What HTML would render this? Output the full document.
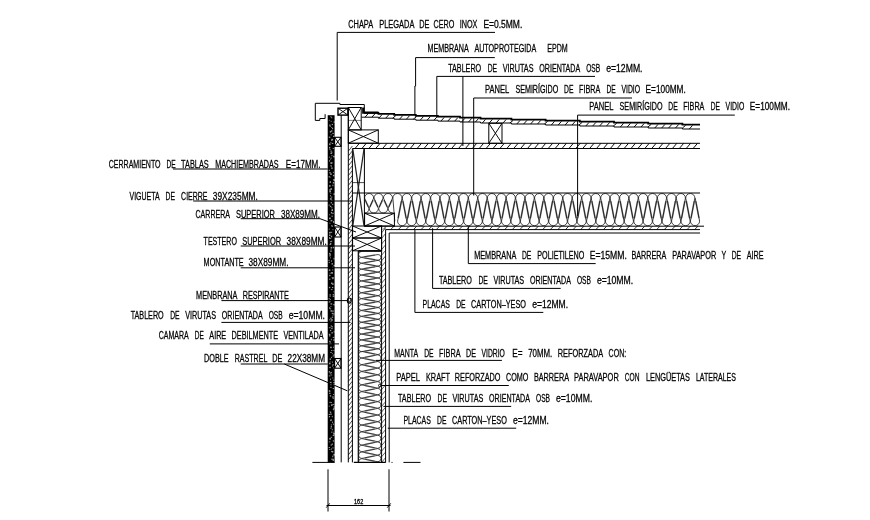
<!DOCTYPE html>
<html><head><meta charset="utf-8"><title>Detalle constructivo</title>
<style>
html,body{margin:0;padding:0;background:#fff;}
body{width:870px;height:520px;overflow:hidden;font-family:"Liberation Sans",sans-serif;}
svg{display:block;will-change:transform;}
svg text{font-family:"Liberation Sans",sans-serif;fill:#000;stroke:#000;stroke-width:0.26px;word-spacing:2.6px;}
</style></head><body>
<svg width="870" height="520" viewBox="0 0 870 520">
<rect x="0" y="0" width="870" height="520" fill="#fff"/>
<rect x="327.7" y="115.2" width="6.9" height="347.2" fill="#000"/>
<g fill="#fff" opacity="0.6"><rect x="330.2" y="116.4" width="1.4" height="0.9"/><rect x="331.3" y="117.0" width="0.9" height="1.3"/><rect x="328.8" y="119.8" width="0.9" height="0.9"/><rect x="330.7" y="120.8" width="0.9" height="1.0"/><rect x="331.7" y="123.9" width="1.3" height="1.2"/><rect x="333.5" y="121.5" width="1.6" height="1.1"/><rect x="329.3" y="124.4" width="1.1" height="1.5"/><rect x="329.5" y="125.6" width="1.4" height="1.1"/><rect x="331.3" y="127.0" width="0.9" height="1.0"/><rect x="332.0" y="127.9" width="1.1" height="1.3"/><rect x="330.9" y="130.3" width="1.5" height="1.4"/><rect x="329.8" y="131.0" width="1.3" height="1.6"/><rect x="332.2" y="132.9" width="1.7" height="0.9"/><rect x="330.7" y="134.2" width="0.9" height="1.2"/><rect x="328.8" y="136.6" width="1.5" height="1.3"/><rect x="333.0" y="135.7" width="1.4" height="1.3"/><rect x="331.5" y="138.8" width="1.6" height="1.7"/><rect x="331.0" y="139.3" width="0.9" height="1.4"/><rect x="331.8" y="142.9" width="1.5" height="1.1"/><rect x="330.5" y="142.0" width="0.8" height="1.2"/><rect x="329.4" y="143.3" width="0.9" height="1.5"/><rect x="329.2" y="143.6" width="1.2" height="1.6"/><rect x="329.0" y="146.9" width="1.3" height="1.6"/><rect x="332.7" y="147.9" width="1.1" height="1.2"/><rect x="330.4" y="150.7" width="1.7" height="0.9"/><rect x="329.5" y="149.0" width="1.0" height="1.2"/><rect x="331.5" y="151.8" width="0.8" height="1.2"/><rect x="330.4" y="152.6" width="1.7" height="1.4"/><rect x="331.2" y="155.4" width="1.4" height="0.8"/><rect x="333.1" y="155.8" width="1.6" height="1.5"/><rect x="330.6" y="157.5" width="0.9" height="1.4"/><rect x="328.9" y="156.7" width="1.0" height="0.9"/><rect x="330.3" y="159.3" width="0.8" height="0.9"/><rect x="329.1" y="160.1" width="0.8" height="1.6"/><rect x="331.7" y="162.3" width="1.0" height="1.1"/><rect x="330.4" y="162.2" width="1.6" height="1.7"/><rect x="330.9" y="165.9" width="0.9" height="0.9"/><rect x="330.3" y="165.3" width="1.5" height="0.9"/><rect x="328.7" y="169.8" width="1.3" height="0.9"/><rect x="331.3" y="167.4" width="1.3" height="1.7"/><rect x="332.9" y="171.8" width="1.0" height="1.1"/><rect x="329.4" y="172.0" width="1.3" height="1.5"/><rect x="330.2" y="173.3" width="1.5" height="1.7"/><rect x="332.9" y="174.8" width="1.5" height="1.5"/><rect x="329.7" y="176.7" width="1.1" height="0.8"/><rect x="328.7" y="176.1" width="1.0" height="1.4"/><rect x="333.4" y="179.3" width="1.6" height="1.7"/><rect x="333.4" y="179.0" width="1.0" height="1.0"/><rect x="329.6" y="181.3" width="1.4" height="1.6"/><rect x="332.8" y="182.0" width="1.4" height="1.5"/><rect x="329.0" y="185.2" width="1.6" height="1.5"/><rect x="332.4" y="184.7" width="1.0" height="1.5"/><rect x="330.3" y="188.3" width="1.7" height="1.2"/><rect x="330.6" y="188.7" width="1.5" height="1.0"/><rect x="329.2" y="189.3" width="1.6" height="1.5"/><rect x="329.3" y="191.0" width="1.7" height="1.4"/><rect x="330.4" y="193.0" width="0.9" height="0.8"/><rect x="333.5" y="193.3" width="1.3" height="1.6"/><rect x="330.8" y="196.6" width="1.5" height="1.0"/><rect x="329.9" y="195.1" width="1.0" height="1.3"/><rect x="329.9" y="198.1" width="0.9" height="1.6"/><rect x="330.4" y="198.2" width="1.3" height="1.6"/><rect x="330.7" y="202.1" width="1.3" height="1.3"/><rect x="331.2" y="199.7" width="1.2" height="1.0"/><rect x="328.6" y="204.5" width="1.0" height="1.2"/><rect x="332.2" y="203.8" width="1.1" height="1.3"/><rect x="331.4" y="207.1" width="0.9" height="1.3"/><rect x="329.8" y="205.8" width="1.5" height="1.3"/><rect x="331.4" y="209.8" width="1.6" height="1.2"/><rect x="331.7" y="209.1" width="1.3" height="1.4"/><rect x="330.9" y="211.9" width="1.2" height="1.6"/><rect x="332.1" y="212.8" width="1.6" height="1.0"/><rect x="331.4" y="215.7" width="1.6" height="0.9"/><rect x="329.2" y="214.3" width="0.9" height="1.0"/><rect x="329.0" y="217.6" width="1.5" height="1.6"/><rect x="329.4" y="217.8" width="1.4" height="0.9"/><rect x="333.0" y="221.1" width="1.0" height="1.7"/><rect x="330.6" y="219.9" width="1.7" height="1.5"/><rect x="329.4" y="222.4" width="1.3" height="1.1"/><rect x="329.6" y="222.1" width="1.4" height="0.8"/><rect x="331.4" y="225.1" width="0.8" height="1.1"/><rect x="331.7" y="225.3" width="0.9" height="1.7"/><rect x="332.5" y="229.2" width="0.9" height="1.0"/><rect x="328.8" y="228.7" width="1.0" height="0.9"/><rect x="330.7" y="231.8" width="1.5" height="1.0"/><rect x="329.3" y="231.8" width="1.3" height="1.4"/><rect x="329.0" y="232.2" width="1.4" height="1.2"/><rect x="329.0" y="234.5" width="1.4" height="1.5"/><rect x="329.0" y="237.0" width="0.9" height="1.6"/><rect x="330.9" y="235.7" width="1.3" height="1.6"/><rect x="329.9" y="237.8" width="1.3" height="1.0"/><rect x="329.1" y="237.9" width="0.8" height="1.0"/><rect x="330.2" y="241.0" width="1.5" height="1.1"/><rect x="331.1" y="240.7" width="1.1" height="0.8"/><rect x="329.9" y="242.9" width="1.5" height="1.3"/><rect x="329.5" y="244.1" width="1.6" height="0.9"/><rect x="332.7" y="246.7" width="1.2" height="1.6"/><rect x="330.6" y="246.9" width="1.4" height="1.7"/><rect x="330.3" y="250.5" width="1.4" height="1.4"/><rect x="330.6" y="249.2" width="0.8" height="0.9"/><rect x="329.0" y="252.9" width="1.0" height="0.9"/><rect x="329.0" y="253.2" width="1.6" height="1.4"/><rect x="330.0" y="254.3" width="1.1" height="1.2"/><rect x="329.4" y="254.9" width="1.0" height="1.7"/><rect x="333.5" y="257.8" width="1.0" height="1.7"/><rect x="330.1" y="257.3" width="0.8" height="1.1"/><rect x="331.0" y="260.4" width="1.0" height="1.3"/><rect x="328.6" y="259.8" width="0.9" height="1.2"/><rect x="328.8" y="261.9" width="1.1" height="1.0"/><rect x="331.5" y="263.2" width="1.5" height="1.4"/><rect x="332.2" y="266.8" width="1.2" height="1.1"/><rect x="333.5" y="264.9" width="1.5" height="1.4"/><rect x="328.8" y="269.4" width="1.6" height="1.4"/><rect x="332.3" y="269.3" width="0.9" height="1.3"/><rect x="331.1" y="272.1" width="1.5" height="1.5"/><rect x="331.5" y="272.2" width="1.4" height="1.4"/><rect x="329.7" y="272.7" width="0.9" height="1.1"/><rect x="329.1" y="274.8" width="1.3" height="1.4"/><rect x="331.7" y="277.1" width="1.2" height="0.8"/><rect x="332.6" y="277.2" width="1.3" height="1.3"/><rect x="331.9" y="278.2" width="1.5" height="1.0"/><rect x="329.0" y="278.7" width="1.5" height="1.0"/><rect x="332.3" y="283.2" width="1.2" height="1.1"/><rect x="331.0" y="282.5" width="1.5" height="1.4"/><rect x="331.8" y="283.6" width="0.9" height="1.0"/><rect x="332.3" y="284.2" width="1.3" height="0.8"/><rect x="328.9" y="286.8" width="1.4" height="1.4"/><rect x="332.0" y="286.9" width="1.3" height="1.2"/><rect x="330.9" y="289.1" width="1.6" height="1.0"/><rect x="333.5" y="291.2" width="0.8" height="1.2"/><rect x="332.7" y="294.0" width="1.2" height="1.0"/><rect x="329.6" y="294.0" width="1.0" height="1.3"/><rect x="329.3" y="295.6" width="1.7" height="0.9"/><rect x="332.7" y="295.5" width="1.6" height="1.4"/><rect x="329.8" y="299.2" width="1.2" height="0.8"/><rect x="328.6" y="298.2" width="1.2" height="1.1"/><rect x="329.3" y="300.5" width="1.1" height="1.6"/><rect x="328.6" y="301.6" width="1.6" height="0.9"/><rect x="333.2" y="304.2" width="1.6" height="1.1"/><rect x="330.5" y="303.3" width="1.7" height="1.3"/><rect x="330.4" y="306.1" width="1.0" height="0.8"/><rect x="329.1" y="307.2" width="1.1" height="1.6"/><rect x="329.8" y="308.4" width="1.3" height="1.0"/><rect x="330.5" y="310.2" width="1.6" height="1.5"/><rect x="331.8" y="312.8" width="1.6" height="1.3"/><rect x="332.2" y="310.5" width="1.5" height="1.2"/><rect x="332.4" y="314.8" width="1.1" height="0.8"/><rect x="333.2" y="313.4" width="1.2" height="1.1"/><rect x="330.1" y="317.7" width="1.7" height="1.0"/><rect x="331.9" y="316.6" width="1.3" height="1.2"/><rect x="329.4" y="318.9" width="1.0" height="1.6"/><rect x="331.1" y="319.1" width="1.6" height="1.7"/><rect x="330.8" y="321.6" width="1.0" height="0.9"/><rect x="330.3" y="321.4" width="1.0" height="1.0"/><rect x="331.4" y="326.2" width="1.5" height="1.2"/><rect x="330.7" y="325.3" width="1.1" height="1.1"/><rect x="328.9" y="327.3" width="1.7" height="0.9"/><rect x="331.1" y="328.2" width="1.6" height="1.0"/><rect x="330.0" y="329.9" width="1.2" height="1.2"/><rect x="333.4" y="331.5" width="1.6" height="0.8"/><rect x="328.8" y="333.8" width="1.6" height="1.2"/><rect x="331.5" y="332.0" width="1.2" height="1.6"/><rect x="332.7" y="336.9" width="1.7" height="1.0"/><rect x="329.1" y="335.1" width="1.3" height="1.4"/><rect x="333.3" y="339.3" width="1.4" height="1.5"/><rect x="330.9" y="338.8" width="0.8" height="1.5"/><rect x="329.8" y="342.5" width="1.4" height="1.1"/><rect x="329.2" y="340.8" width="1.4" height="1.4"/><rect x="329.2" y="343.0" width="1.3" height="1.3"/><rect x="330.5" y="343.4" width="1.3" height="0.8"/><rect x="330.1" y="346.7" width="1.7" height="1.4"/><rect x="333.0" y="346.7" width="1.0" height="1.0"/><rect x="333.4" y="350.0" width="1.1" height="0.8"/><rect x="331.1" y="350.0" width="1.2" height="1.0"/><rect x="331.9" y="353.3" width="1.0" height="0.8"/><rect x="330.3" y="352.0" width="1.4" height="1.0"/><rect x="332.6" y="355.5" width="1.3" height="1.0"/><rect x="333.4" y="354.4" width="1.5" height="1.0"/><rect x="329.7" y="358.3" width="1.1" height="1.7"/><rect x="331.1" y="356.8" width="1.0" height="1.2"/><rect x="331.9" y="361.5" width="0.9" height="1.2"/><rect x="329.7" y="361.5" width="0.9" height="0.8"/><rect x="328.9" y="362.7" width="1.6" height="1.6"/><rect x="332.3" y="364.3" width="1.6" height="1.1"/><rect x="329.5" y="366.8" width="1.5" height="0.8"/><rect x="331.9" y="365.4" width="1.1" height="1.1"/><rect x="329.4" y="367.1" width="1.1" height="1.1"/><rect x="333.4" y="367.4" width="1.7" height="1.0"/><rect x="330.4" y="371.9" width="1.5" height="1.2"/><rect x="328.8" y="371.0" width="1.1" height="1.6"/><rect x="329.6" y="373.4" width="1.6" height="0.8"/><rect x="330.7" y="374.6" width="1.5" height="0.8"/><rect x="328.8" y="375.4" width="1.6" height="1.0"/><rect x="332.3" y="377.5" width="1.1" height="1.0"/><rect x="333.4" y="379.5" width="1.0" height="1.4"/><rect x="330.2" y="378.6" width="0.8" height="1.5"/><rect x="333.2" y="382.2" width="1.6" height="0.8"/><rect x="329.8" y="381.8" width="1.7" height="1.7"/><rect x="330.5" y="384.0" width="1.2" height="1.2"/><rect x="333.2" y="383.8" width="1.5" height="1.5"/><rect x="332.7" y="388.0" width="1.3" height="1.1"/><rect x="330.2" y="386.9" width="1.5" height="0.9"/><rect x="329.6" y="390.7" width="1.0" height="0.9"/><rect x="328.8" y="390.1" width="1.1" height="1.7"/><rect x="333.0" y="394.0" width="1.0" height="0.9"/><rect x="329.1" y="392.7" width="1.4" height="1.2"/><rect x="329.8" y="395.2" width="1.4" height="1.4"/><rect x="332.3" y="396.3" width="1.4" height="0.9"/><rect x="332.8" y="397.6" width="1.3" height="1.1"/><rect x="332.3" y="397.3" width="1.0" height="1.0"/><rect x="329.4" y="401.8" width="1.3" height="1.1"/><rect x="330.6" y="402.1" width="1.3" height="1.0"/><rect x="332.6" y="403.9" width="1.7" height="0.9"/><rect x="331.0" y="404.3" width="1.6" height="1.6"/><rect x="328.8" y="405.7" width="0.9" height="1.0"/><rect x="333.5" y="406.4" width="1.6" height="1.1"/><rect x="332.9" y="408.8" width="1.0" height="1.5"/><rect x="333.3" y="407.9" width="1.3" height="1.4"/><rect x="329.7" y="411.3" width="0.9" height="1.0"/><rect x="329.9" y="411.9" width="1.4" height="1.0"/><rect x="328.7" y="413.9" width="1.4" height="1.0"/><rect x="330.2" y="413.5" width="1.5" height="1.3"/><rect x="328.9" y="416.0" width="1.2" height="1.3"/><rect x="331.8" y="415.9" width="0.9" height="1.4"/><rect x="330.6" y="419.1" width="1.1" height="1.7"/><rect x="330.2" y="419.9" width="1.1" height="1.2"/><rect x="332.9" y="423.7" width="1.1" height="1.0"/><rect x="332.2" y="421.6" width="0.8" height="1.6"/><rect x="330.7" y="425.9" width="1.2" height="1.6"/><rect x="330.9" y="424.2" width="0.8" height="1.3"/><rect x="331.8" y="428.9" width="0.9" height="1.4"/><rect x="330.5" y="427.8" width="0.9" height="1.1"/><rect x="331.2" y="431.6" width="0.9" height="1.2"/><rect x="332.6" y="431.7" width="1.0" height="0.9"/><rect x="333.3" y="434.4" width="1.2" height="0.8"/><rect x="333.2" y="432.9" width="1.6" height="1.4"/><rect x="332.7" y="435.0" width="1.5" height="1.0"/><rect x="330.6" y="436.8" width="1.5" height="1.0"/><rect x="329.7" y="438.3" width="1.3" height="1.1"/><rect x="329.2" y="437.9" width="1.5" height="1.6"/><rect x="328.8" y="441.5" width="1.5" height="0.8"/><rect x="332.8" y="440.3" width="1.3" height="1.3"/><rect x="331.7" y="443.5" width="1.2" height="1.3"/><rect x="330.7" y="444.4" width="1.2" height="1.2"/><rect x="328.7" y="447.0" width="1.2" height="1.0"/><rect x="332.4" y="447.4" width="1.2" height="1.0"/><rect x="331.0" y="448.4" width="0.9" height="1.2"/><rect x="329.1" y="449.2" width="1.3" height="0.8"/><rect x="331.8" y="451.0" width="1.5" height="1.5"/><rect x="331.2" y="450.9" width="1.3" height="1.1"/><rect x="333.4" y="453.9" width="1.6" height="1.7"/><rect x="332.3" y="455.6" width="1.0" height="1.7"/><rect x="331.1" y="458.7" width="1.6" height="0.9"/><rect x="332.5" y="458.6" width="0.9" height="1.1"/><rect x="332.4" y="459.3" width="1.6" height="1.0"/><rect x="332.7" y="459.3" width="1.3" height="1.6"/><rect x="329.6" y="462.3" width="1.3" height="1.1"/><rect x="328.8" y="462.1" width="0.9" height="1.6"/></g>
<path d="M325.10,114.20 L325.10,118.50 L319.80,118.50 L319.80,120.40 L315.30,120.40 L315.30,103.30 L339.90,103.30 L339.90,104.50 L364.30,104.50 L364.30,112.00" fill="none" stroke="#000" stroke-width="1.0" stroke-linejoin="miter"/>
<path d="M363.30,107.40 L363.30,112.60 L378.40,112.60" fill="none" stroke="#000" stroke-width="2.3" stroke-linejoin="miter"/>
<path d="M364.00,112.80 L378.40,112.80 L378.40,113.80 L394.20,113.80 L394.20,114.80 L415.80,114.80 L415.80,115.80 L437.90,115.80 L437.90,116.70 L460.00,116.70 L460.00,117.60 L480.50,117.60 L480.50,118.60 L511.40,118.60 L511.40,119.60 L545.60,119.60 L545.60,120.60 L579.80,120.60 L579.80,121.60 L614.00,121.60 L614.00,122.60 L648.20,122.60 L648.20,123.60 L682.40,123.60 L682.40,124.60 L700.00,124.60" fill="none" stroke="#000" stroke-width="1.8" stroke-linejoin="miter"/>
<rect x="338.00" y="108.20" width="9.90" height="6.90" fill="none" stroke="#000" stroke-width="1.4"/>
<line x1="338.00" y1="108.20" x2="347.90" y2="115.10" stroke="#000" stroke-width="0.95"/>
<line x1="338.00" y1="115.10" x2="347.90" y2="108.20" stroke="#000" stroke-width="0.95"/>
<rect x="334.60" y="137.30" width="6.40" height="9.00" fill="none" stroke="#000" stroke-width="1.1"/>
<line x1="334.60" y1="137.30" x2="341.00" y2="146.30" stroke="#000" stroke-width="0.95"/>
<line x1="334.60" y1="146.30" x2="341.00" y2="137.30" stroke="#000" stroke-width="0.95"/>
<rect x="334.60" y="227.00" width="6.40" height="10.00" fill="none" stroke="#000" stroke-width="1.1"/>
<line x1="334.60" y1="227.00" x2="341.00" y2="237.00" stroke="#000" stroke-width="0.95"/>
<line x1="334.60" y1="237.00" x2="341.00" y2="227.00" stroke="#000" stroke-width="0.95"/>
<rect x="334.60" y="358.50" width="6.40" height="9.70" fill="none" stroke="#000" stroke-width="1.1"/>
<line x1="334.60" y1="358.50" x2="341.00" y2="368.20" stroke="#000" stroke-width="0.95"/>
<line x1="334.60" y1="368.20" x2="341.00" y2="358.50" stroke="#000" stroke-width="0.95"/>
<line x1="341.20" y1="115.10" x2="341.20" y2="462.40" stroke="#000" stroke-width="1.0"/>
<line x1="348.30" y1="107.50" x2="348.30" y2="462.40" stroke="#000" stroke-width="1.0"/>
<line x1="352.40" y1="148.50" x2="352.40" y2="462.40" stroke="#000" stroke-width="1.0"/>
<path d="M348.30,151.12 L352.40,146.00 M348.30,156.02 L352.40,150.90 M348.30,160.92 L352.40,155.80 M348.30,165.82 L352.40,160.70 M348.30,170.72 L352.40,165.60 M348.30,175.62 L352.40,170.50 M348.30,180.52 L352.40,175.40 M348.30,185.43 L352.40,180.30 M348.30,190.32 L352.40,185.20 M348.30,195.23 L352.40,190.10 M348.30,200.12 L352.40,195.00 M348.30,205.03 L352.40,199.90 M348.30,209.93 L352.40,204.80 M348.30,214.83 L352.40,209.70 M348.30,219.73 L352.40,214.60 M348.30,224.63 L352.40,219.50 M348.30,229.53 L352.40,224.40 M348.30,234.43 L352.40,229.30 M348.30,239.33 L352.40,234.20 M348.30,244.23 L352.40,239.10 M348.30,249.13 L352.40,244.00 M348.30,254.03 L352.40,248.90 M348.30,258.93 L352.40,253.80 M348.30,263.83 L352.40,258.70 M348.30,268.73 L352.40,263.60 M348.30,273.62 L352.40,268.50 M348.30,278.52 L352.40,273.40 M348.30,283.42 L352.40,278.30 M348.30,288.32 L352.40,283.20 M348.30,293.22 L352.40,288.10 M348.30,298.12 L352.40,293.00 M348.30,303.02 L352.40,297.90 M348.30,307.92 L352.40,302.80 M348.30,312.82 L352.40,307.70 M348.30,317.72 L352.40,312.60 M348.30,322.62 L352.40,317.50 M348.30,327.52 L352.40,322.40 M348.30,332.42 L352.40,327.30 M348.30,337.32 L352.40,332.20 M348.30,342.22 L352.40,337.10 M348.30,347.12 L352.40,342.00 M348.30,352.02 L352.40,346.90 M348.30,356.92 L352.40,351.80 M348.30,361.82 L352.40,356.70 M348.30,366.72 L352.40,361.60 M348.30,371.62 L352.40,366.50 M348.30,376.52 L352.40,371.40 M348.30,381.42 L352.40,376.30 M348.30,386.32 L352.40,381.20 M348.30,391.22 L352.40,386.10 M348.30,396.12 L352.40,391.00 M348.30,401.02 L352.40,395.90 M348.30,405.92 L352.40,400.80 M348.30,410.82 L352.40,405.70 M348.30,415.72 L352.40,410.60 M348.30,420.62 L352.40,415.50 M348.30,425.52 L352.40,420.40 M348.30,430.42 L352.40,425.30 M348.30,435.32 L352.40,430.20 M348.30,440.22 L352.40,435.10 M348.30,445.12 L352.40,440.00 M348.30,450.02 L352.40,444.90 M348.30,454.92 L352.40,449.80 M348.30,459.82 L352.40,454.70" fill="none" stroke="#000" stroke-width="0.7"/>
<rect x="348.30" y="107.50" width="12.90" height="22.40" fill="none" stroke="#000" stroke-width="1.0"/>
<line x1="348.30" y1="107.50" x2="361.20" y2="129.90" stroke="#000" stroke-width="0.95"/>
<line x1="348.30" y1="129.90" x2="361.20" y2="107.50" stroke="#000" stroke-width="0.95"/>
<line x1="348.30" y1="120.40" x2="361.20" y2="120.40" stroke="#000" stroke-width="0.5"/>
<rect x="348.30" y="129.90" width="30.00" height="13.30" fill="none" stroke="#000" stroke-width="1.0"/>
<line x1="348.30" y1="129.90" x2="378.30" y2="143.20" stroke="#000" stroke-width="0.95"/>
<line x1="348.30" y1="143.20" x2="378.30" y2="129.90" stroke="#000" stroke-width="0.95"/>
<line x1="348.30" y1="143.30" x2="700.00" y2="143.30" stroke="#000" stroke-width="1.0"/>
<line x1="352.40" y1="148.50" x2="700.00" y2="148.50" stroke="#000" stroke-width="1.0"/>
<path d="M355.00,148.50 L359.42,143.30 M361.90,148.50 L366.32,143.30 M368.80,148.50 L373.22,143.30 M375.70,148.50 L380.12,143.30 M382.60,148.50 L387.02,143.30 M389.50,148.50 L393.92,143.30 M396.40,148.50 L400.82,143.30 M403.30,148.50 L407.72,143.30 M410.20,148.50 L414.62,143.30 M417.10,148.50 L421.52,143.30 M424.00,148.50 L428.42,143.30 M430.90,148.50 L435.32,143.30 M437.80,148.50 L442.22,143.30 M444.70,148.50 L449.12,143.30 M451.60,148.50 L456.02,143.30 M458.50,148.50 L462.92,143.30 M465.40,148.50 L469.82,143.30 M472.30,148.50 L476.72,143.30 M479.20,148.50 L483.62,143.30 M486.10,148.50 L490.52,143.30 M493.00,148.50 L497.42,143.30 M499.90,148.50 L504.32,143.30 M506.80,148.50 L511.22,143.30 M513.70,148.50 L518.12,143.30 M520.60,148.50 L525.02,143.30 M527.50,148.50 L531.92,143.30 M534.40,148.50 L538.82,143.30 M541.30,148.50 L545.72,143.30 M548.20,148.50 L552.62,143.30 M555.10,148.50 L559.52,143.30 M562.00,148.50 L566.42,143.30 M568.90,148.50 L573.32,143.30 M575.80,148.50 L580.22,143.30 M582.70,148.50 L587.12,143.30 M589.60,148.50 L594.02,143.30 M596.50,148.50 L600.92,143.30 M603.40,148.50 L607.82,143.30 M610.30,148.50 L614.72,143.30 M617.20,148.50 L621.62,143.30 M624.10,148.50 L628.52,143.30 M631.00,148.50 L635.42,143.30 M637.90,148.50 L642.32,143.30 M644.80,148.50 L649.22,143.30 M651.70,148.50 L656.12,143.30 M658.60,148.50 L663.02,143.30 M665.50,148.50 L669.92,143.30 M672.40,148.50 L676.82,143.30 M679.30,148.50 L683.72,143.30 M686.20,148.50 L690.62,143.30 M693.10,148.50 L697.52,143.30" fill="none" stroke="#000" stroke-width="0.95"/>
<path d="M361.60,117.20 L363.90,117.20 L363.90,117.20 L378.40,117.20 L378.40,118.20 L394.20,118.20 L394.20,119.20 L415.80,119.20 L415.80,120.20 L437.90,120.20 L437.90,121.10 L460.00,121.10 L460.00,122.00 L480.50,122.00 L480.50,123.00 L511.40,123.00 L511.40,124.00 L545.60,124.00 L545.60,125.00 L579.80,125.00 L579.80,126.00 L614.00,126.00 L614.00,127.00 L648.20,127.00 L648.20,128.00 L682.40,128.00 L682.40,129.00 L700.00,129.00" fill="none" stroke="#000" stroke-width="1.0" stroke-linejoin="miter"/>
<path d="M365.00,117.20 L368.24,113.60 M371.90,117.20 L375.14,113.60 M378.80,118.20 L382.04,114.60 M385.70,118.20 L388.94,114.60 M392.60,118.20 L395.84,115.60 M399.50,119.20 L402.74,115.60 M406.40,119.20 L409.64,115.60 M413.30,119.20 L416.54,116.60 M420.20,120.20 L423.44,116.60 M427.10,120.20 L430.34,116.60 M434.00,120.20 L437.24,116.60 M440.90,121.10 L444.14,117.50 M447.80,121.10 L451.04,117.50 M454.70,121.10 L457.94,117.50 M461.60,122.00 L464.84,118.40 M468.50,122.00 L471.74,118.40 M475.40,122.00 L478.64,118.40 M482.30,123.00 L485.54,119.40 M489.20,123.00 L492.44,119.40 M496.10,123.00 L499.34,119.40 M503.00,123.00 L506.24,119.40 M509.90,123.00 L513.14,120.40 M516.80,124.00 L520.04,120.40 M523.70,124.00 L526.94,120.40 M530.60,124.00 L533.84,120.40 M537.50,124.00 L540.74,120.40 M544.40,124.00 L547.64,121.40 M551.30,125.00 L554.54,121.40 M558.20,125.00 L561.44,121.40 M565.10,125.00 L568.34,121.40 M572.00,125.00 L575.24,121.40 M578.90,125.00 L582.14,122.40 M585.80,126.00 L589.04,122.40 M592.70,126.00 L595.94,122.40 M599.60,126.00 L602.84,122.40 M606.50,126.00 L609.74,122.40 M613.40,126.00 L616.64,123.40 M620.30,127.00 L623.54,123.40 M627.20,127.00 L630.44,123.40 M634.10,127.00 L637.34,123.40 M641.00,127.00 L644.24,123.40 M647.90,127.00 L651.14,124.40 M654.80,128.00 L658.04,124.40 M661.70,128.00 L664.94,124.40 M668.60,128.00 L671.84,124.40 M675.50,128.00 L678.74,124.40 M682.40,128.00 L685.64,125.40 M689.30,129.00 L692.54,125.40" fill="none" stroke="#000" stroke-width="0.95"/>
<rect x="488.80" y="123.30" width="13.20" height="20.00" fill="none" stroke="#000" stroke-width="1.0"/>
<line x1="488.80" y1="123.30" x2="502.00" y2="143.30" stroke="#000" stroke-width="0.95"/>
<line x1="488.80" y1="143.30" x2="502.00" y2="123.30" stroke="#000" stroke-width="0.95"/>
<line x1="364.40" y1="148.50" x2="364.40" y2="225.50" stroke="#000" stroke-width="1.0"/>
<line x1="352.80" y1="149.00" x2="364.00" y2="225.60" stroke="#222" stroke-width="1.25"/>
<line x1="364.00" y1="149.00" x2="352.80" y2="225.60" stroke="#222" stroke-width="1.25"/>
<line x1="352.40" y1="182.60" x2="364.40" y2="182.60" stroke="#000" stroke-width="0.7"/>
<line x1="352.40" y1="193.00" x2="700.00" y2="193.00" stroke="#000" stroke-width="1.0"/>
<line x1="364.40" y1="226.20" x2="704.00" y2="226.20" stroke="#000" stroke-width="1.0"/>
<path d="M364.6,213.00 A4.53,4.53 0 0 0 368.93,208.47 L364.57,198.03 A4.53,4.53 0 0 1 373.63,198.03 L369.29,208.47 A4.53,4.53 0 0 0 378.36,208.47 L374.01,198.03 A4.53,4.53 0 0 1 383.08,198.03 L378.74,208.47 A4.53,4.53 0 0 0 387.81,208.47 L383.46,198.03 A4.53,4.53 0 0 1 392.53,198.03 L388.18,208.47 A4.53,4.53 0 0 0 392.72,213.00" fill="none" stroke="#111" stroke-width="0.8"/>
<path d="M394.80,221.20 L392.86,198.08 A4.58,4.58 0 0 1 402.02,198.08 L397.58,221.12 A4.58,4.58 0 0 0 406.75,221.12 L402.31,198.08 A4.58,4.58 0 0 1 411.47,198.08 L407.03,221.12 A4.58,4.58 0 0 0 416.19,221.12 L411.75,198.08 A4.58,4.58 0 0 1 420.92,198.08 L416.48,221.12 A4.58,4.58 0 0 0 425.64,221.12 L421.20,198.08 A4.58,4.58 0 0 1 430.36,198.08 L425.92,221.12 A4.58,4.58 0 0 0 435.09,221.12 L430.65,198.08 A4.58,4.58 0 0 1 439.81,198.08 L435.37,221.12 A4.58,4.58 0 0 0 444.53,221.12 L440.09,198.08 A4.58,4.58 0 0 1 449.26,198.08 L444.82,221.12 A4.58,4.58 0 0 0 453.98,221.12 L449.54,198.08 A4.58,4.58 0 0 1 458.70,198.08 L454.26,221.12 A4.58,4.58 0 0 0 463.43,221.12 L458.99,198.08 A4.58,4.58 0 0 1 468.15,198.08 L463.71,221.12 A4.58,4.58 0 0 0 472.88,221.12 L468.44,198.08 A4.58,4.58 0 0 1 477.60,198.08 L473.16,221.12 A4.58,4.58 0 0 0 482.32,221.12 L477.88,198.08 A4.58,4.58 0 0 1 487.05,198.08 L482.61,221.12 A4.58,4.58 0 0 0 491.77,221.12 L487.33,198.08 A4.58,4.58 0 0 1 496.49,198.08 L492.05,221.12 A4.58,4.58 0 0 0 501.22,221.12 L496.78,198.08 A4.58,4.58 0 0 1 505.94,198.08 L501.50,221.12 A4.58,4.58 0 0 0 510.66,221.12 L506.22,198.08 A4.58,4.58 0 0 1 515.39,198.08 L510.95,221.12 A4.58,4.58 0 0 0 520.11,221.12 L515.67,198.08 A4.58,4.58 0 0 1 524.83,198.08 L520.39,221.12 A4.58,4.58 0 0 0 529.56,221.12 L525.12,198.08 A4.58,4.58 0 0 1 534.28,198.08 L529.84,221.12 A4.58,4.58 0 0 0 539.00,221.12 L534.56,198.08 A4.58,4.58 0 0 1 543.73,198.08 L539.29,221.12 A4.58,4.58 0 0 0 548.45,221.12 L544.01,198.08 A4.58,4.58 0 0 1 553.17,198.08 L548.73,221.12 A4.58,4.58 0 0 0 557.90,221.12 L553.46,198.08 A4.58,4.58 0 0 1 562.62,198.08 L558.18,221.12 A4.58,4.58 0 0 0 567.35,221.12 L562.91,198.08 A4.58,4.58 0 0 1 572.07,198.08 L567.63,221.12 A4.58,4.58 0 0 0 576.79,221.12 L572.35,198.08 A4.58,4.58 0 0 1 581.52,198.08 L577.08,221.12 A4.58,4.58 0 0 0 586.24,221.12 L581.80,198.08 A4.58,4.58 0 0 1 590.96,198.08 L586.52,221.12 A4.58,4.58 0 0 0 595.69,221.12 L591.25,198.08 A4.58,4.58 0 0 1 600.41,198.08 L595.97,221.12 A4.58,4.58 0 0 0 605.13,221.12 L600.69,198.08 A4.58,4.58 0 0 1 609.86,198.08 L605.42,221.12 A4.58,4.58 0 0 0 614.58,221.12 L610.14,198.08 A4.58,4.58 0 0 1 619.30,198.08 L614.86,221.12 A4.58,4.58 0 0 0 624.03,221.12 L619.59,198.08 A4.58,4.58 0 0 1 628.75,198.08 L624.31,221.12 A4.58,4.58 0 0 0 633.47,221.12 L629.03,198.08 A4.58,4.58 0 0 1 638.20,198.08 L633.76,221.12 A4.58,4.58 0 0 0 642.92,221.12 L638.48,198.08 A4.58,4.58 0 0 1 647.64,198.08 L643.20,221.12 A4.58,4.58 0 0 0 652.37,221.12 L647.93,198.08 A4.58,4.58 0 0 1 657.09,198.08 L652.65,221.12 A4.58,4.58 0 0 0 661.82,221.12 L657.38,198.08 A4.58,4.58 0 0 1 666.54,198.08 L662.10,221.12 A4.58,4.58 0 0 0 671.26,221.12 L666.82,198.08 A4.58,4.58 0 0 1 675.99,198.08 L671.55,221.12 A4.58,4.58 0 0 0 680.71,221.12 L676.27,198.08 A4.58,4.58 0 0 1 685.43,198.08 L680.99,221.12 A4.58,4.58 0 0 0 690.16,221.12 L685.72,198.08 A4.58,4.58 0 0 1 694.88,198.08 L690.44,221.12 A4.58,4.58 0 0 0 699.60,221.12 L695.16,198.08" fill="none" stroke="#111" stroke-width="0.8"/>
<path d="M401.42,201.08 L398.18,218.12 M406.15,218.12 L402.91,201.08 M410.87,201.08 L407.63,218.12 M415.59,218.12 L412.35,201.08 M420.32,201.08 L417.08,218.12 M425.04,218.12 L421.80,201.08 M429.76,201.08 L426.52,218.12 M434.49,218.12 L431.25,201.08 M439.21,201.08 L435.97,218.12 M443.93,218.12 L440.69,201.08 M448.66,201.08 L445.42,218.12 M453.38,218.12 L450.14,201.08 M458.10,201.08 L454.86,218.12 M462.83,218.12 L459.59,201.08 M467.55,201.08 L464.31,218.12 M472.28,218.12 L469.04,201.08 M477.00,201.08 L473.76,218.12 M481.72,218.12 L478.48,201.08 M486.45,201.08 L483.21,218.12 M491.17,218.12 L487.93,201.08 M495.89,201.08 L492.65,218.12 M500.62,218.12 L497.38,201.08 M505.34,201.08 L502.10,218.12 M510.06,218.12 L506.82,201.08 M514.79,201.08 L511.55,218.12 M519.51,218.12 L516.27,201.08 M524.23,201.08 L520.99,218.12 M528.96,218.12 L525.72,201.08 M533.68,201.08 L530.44,218.12 M538.40,218.12 L535.16,201.08 M543.13,201.08 L539.89,218.12 M547.85,218.12 L544.61,201.08 M552.57,201.08 L549.33,218.12 M557.30,218.12 L554.06,201.08 M562.02,201.08 L558.78,218.12 M566.75,218.12 L563.51,201.08 M571.47,201.08 L568.23,218.12 M576.19,218.12 L572.95,201.08 M580.92,201.08 L577.68,218.12 M585.64,218.12 L582.40,201.08 M590.36,201.08 L587.12,218.12 M595.09,218.12 L591.85,201.08 M599.81,201.08 L596.57,218.12 M604.53,218.12 L601.29,201.08 M609.26,201.08 L606.02,218.12 M613.98,218.12 L610.74,201.08 M618.70,201.08 L615.46,218.12 M623.43,218.12 L620.19,201.08 M628.15,201.08 L624.91,218.12 M632.87,218.12 L629.63,201.08 M637.60,201.08 L634.36,218.12 M642.32,218.12 L639.08,201.08 M647.04,201.08 L643.80,218.12 M651.77,218.12 L648.53,201.08 M656.49,201.08 L653.25,218.12 M661.22,218.12 L657.98,201.08 M665.94,201.08 L662.70,218.12 M670.66,218.12 L667.42,201.08 M675.39,201.08 L672.15,218.12 M680.11,218.12 L676.87,201.08 M684.83,201.08 L681.59,218.12 M689.56,218.12 L686.32,201.08 M694.28,201.08 L691.04,218.12 M699.00,218.12 L695.76,201.08 M368.43,206.97 L365.07,200.03 M373.13,200.03 L369.79,206.97 M377.86,206.97 L374.51,200.03 M382.58,200.03 L379.24,206.97 M387.31,206.97 L383.96,200.03 M392.03,200.03 L388.68,206.97" fill="none" stroke="#000" stroke-opacity="0.45" stroke-width="1.7"/>
<rect x="364.60" y="213.20" width="29.80" height="12.80" fill="none" stroke="#000" stroke-width="1.0"/>
<line x1="364.60" y1="213.20" x2="394.40" y2="226.00" stroke="#000" stroke-width="0.95"/>
<line x1="364.60" y1="226.00" x2="394.40" y2="213.20" stroke="#000" stroke-width="0.95"/>
<line x1="385.60" y1="229.60" x2="700.00" y2="229.60" stroke="#000" stroke-width="1.0"/>
<line x1="389.20" y1="233.00" x2="700.00" y2="233.00" stroke="#000" stroke-width="1.0"/>
<path d="M383.00,229.60 L386.40,226.20 M390.60,229.60 L394.00,226.20 M398.20,229.60 L401.60,226.20 M405.80,229.60 L409.20,226.20 M413.40,229.60 L416.80,226.20 M421.00,229.60 L424.40,226.20 M428.60,229.60 L432.00,226.20 M436.20,229.60 L439.60,226.20 M443.80,229.60 L447.20,226.20 M451.40,229.60 L454.80,226.20 M459.00,229.60 L462.40,226.20 M466.60,229.60 L470.00,226.20 M474.20,229.60 L477.60,226.20 M481.80,229.60 L485.20,226.20 M489.40,229.60 L492.80,226.20 M497.00,229.60 L500.40,226.20 M504.60,229.60 L508.00,226.20 M512.20,229.60 L515.60,226.20 M519.80,229.60 L523.20,226.20 M527.40,229.60 L530.80,226.20 M535.00,229.60 L538.40,226.20 M542.60,229.60 L546.00,226.20 M550.20,229.60 L553.60,226.20 M557.80,229.60 L561.20,226.20 M565.40,229.60 L568.80,226.20 M573.00,229.60 L576.40,226.20 M580.60,229.60 L584.00,226.20 M588.20,229.60 L591.60,226.20 M595.80,229.60 L599.20,226.20 M603.40,229.60 L606.80,226.20 M611.00,229.60 L614.40,226.20 M618.60,229.60 L622.00,226.20 M626.20,229.60 L629.60,226.20 M633.80,229.60 L637.20,226.20 M641.40,229.60 L644.80,226.20 M649.00,229.60 L652.40,226.20 M656.60,229.60 L660.00,226.20 M664.20,229.60 L667.60,226.20 M671.80,229.60 L675.20,226.20 M679.40,229.60 L682.80,226.20 M687.00,229.60 L690.40,226.20 M694.60,229.60 L698.00,226.20" fill="none" stroke="#000" stroke-width="0.8"/>
<rect x="352.60" y="226.00" width="29.00" height="12.00" fill="none" stroke="#000" stroke-width="1.0"/>
<line x1="352.60" y1="226.00" x2="381.60" y2="238.00" stroke="#000" stroke-width="0.95"/>
<line x1="352.60" y1="238.00" x2="381.60" y2="226.00" stroke="#000" stroke-width="0.95"/>
<rect x="352.60" y="238.00" width="29.00" height="12.80" fill="none" stroke="#000" stroke-width="1.0"/>
<line x1="352.60" y1="238.00" x2="381.60" y2="250.80" stroke="#000" stroke-width="0.95"/>
<line x1="352.60" y1="250.80" x2="381.60" y2="238.00" stroke="#000" stroke-width="0.95"/>
<line x1="381.60" y1="226.00" x2="381.60" y2="462.40" stroke="#000" stroke-width="1.0"/>
<line x1="385.60" y1="229.60" x2="385.60" y2="462.40" stroke="#000" stroke-width="1.0"/>
<line x1="389.20" y1="233.00" x2="389.20" y2="462.40" stroke="#000" stroke-width="1.0"/>
<path d="M381.60,232.80 L385.60,228.00 M381.60,238.40 L385.60,233.60 M381.60,244.00 L385.60,239.20 M381.60,249.60 L385.60,244.80 M381.60,255.20 L385.60,250.40 M381.60,260.80 L385.60,256.00 M381.60,266.40 L385.60,261.60 M381.60,272.00 L385.60,267.20 M381.60,277.60 L385.60,272.80 M381.60,283.20 L385.60,278.40 M381.60,288.80 L385.60,284.00 M381.60,294.40 L385.60,289.60 M381.60,300.00 L385.60,295.20 M381.60,305.60 L385.60,300.80 M381.60,311.20 L385.60,306.40 M381.60,316.80 L385.60,312.00 M381.60,322.40 L385.60,317.60 M381.60,328.00 L385.60,323.20 M381.60,333.60 L385.60,328.80 M381.60,339.20 L385.60,334.40 M381.60,344.80 L385.60,340.00 M381.60,350.40 L385.60,345.60 M381.60,356.00 L385.60,351.20 M381.60,361.60 L385.60,356.80 M381.60,367.20 L385.60,362.40 M381.60,372.80 L385.60,368.00 M381.60,378.40 L385.60,373.60 M381.60,384.00 L385.60,379.20 M381.60,389.60 L385.60,384.80 M381.60,395.20 L385.60,390.40 M381.60,400.80 L385.60,396.00 M381.60,406.40 L385.60,401.60 M381.60,412.00 L385.60,407.20 M381.60,417.60 L385.60,412.80 M381.60,423.20 L385.60,418.40 M381.60,428.80 L385.60,424.00 M381.60,434.40 L385.60,429.60 M381.60,440.00 L385.60,435.20 M381.60,445.60 L385.60,440.80 M381.60,451.20 L385.60,446.40 M381.60,456.80 L385.60,452.00 M381.60,462.40 L385.60,457.60" fill="none" stroke="#000" stroke-width="0.6"/>
<clipPath id="wb"><rect x="357" y="250" width="25" height="212.4"/></clipPath>
<line x1="358.30" y1="251.00" x2="358.30" y2="462.40" stroke="#000" stroke-width="1.2"/>
<path clip-path="url(#wb)" d="M364.43,256.83 L375.07,254.92 M375.07,259.78 L364.43,257.87 M364.43,262.73 L375.07,260.82 M375.07,265.68 L364.43,263.77 M364.43,268.63 L375.07,266.72 M375.07,271.58 L364.43,269.67 M364.43,274.53 L375.07,272.62 M375.07,277.48 L364.43,275.57 M364.43,280.43 L375.07,278.52 M375.07,283.38 L364.43,281.47 M364.43,286.33 L375.07,284.42 M375.07,289.28 L364.43,287.37 M364.43,292.23 L375.07,290.32 M375.07,295.18 L364.43,293.27 M364.43,298.13 L375.07,296.22 M375.07,301.08 L364.43,299.17 M364.43,304.03 L375.07,302.12 M375.07,306.98 L364.43,305.07 M364.43,309.93 L375.07,308.02 M375.07,312.88 L364.43,310.97 M364.43,315.83 L375.07,313.92 M375.07,318.78 L364.43,316.87 M364.43,321.73 L375.07,319.82 M375.07,324.68 L364.43,322.77 M364.43,327.63 L375.07,325.72 M375.07,330.58 L364.43,328.67 M364.43,333.53 L375.07,331.62 M375.07,336.48 L364.43,334.57 M364.43,339.43 L375.07,337.52 M375.07,342.38 L364.43,340.47 M364.43,345.33 L375.07,343.42 M375.07,348.28 L364.43,346.37 M364.43,351.23 L375.07,349.32 M375.07,354.18 L364.82,351.88 M364.82,357.52 L374.68,355.23 M374.68,360.87 L364.82,358.58 M364.82,364.22 L374.68,361.93 M374.68,367.57 L364.82,365.28 M364.82,370.92 L374.68,368.63 M374.68,374.27 L364.82,371.98 M364.82,377.62 L374.68,375.33 M374.68,380.97 L364.82,378.68 M364.82,384.32 L374.68,382.03 M374.68,387.67 L364.82,385.38 M364.82,391.02 L374.68,388.73 M374.68,394.37 L364.82,392.08 M364.82,397.72 L374.68,395.43 M374.68,401.07 L364.82,398.78 M364.82,404.42 L374.68,402.13 M374.68,407.77 L364.82,405.48 M364.82,411.12 L374.68,408.83 M374.68,414.47 L364.82,412.18 M364.82,417.82 L374.68,415.53 M374.68,421.17 L364.82,418.88 M364.82,424.52 L374.68,422.23 M374.68,427.87 L364.82,425.58 M364.82,431.22 L374.68,428.93 M374.68,434.57 L364.82,432.28 M364.82,437.92 L374.68,435.63 M374.68,441.27 L364.82,438.98 M364.82,444.62 L374.68,442.33 M374.68,447.97 L364.82,445.68 M364.82,451.32 L374.68,449.03 M374.68,454.67 L364.82,452.38 M364.82,458.02 L374.68,455.73 M374.68,461.37 L364.82,459.08 M364.82,464.72 L374.68,462.43 M374.68,468.07 L364.82,465.78 M364.82,471.42 L374.68,469.13 M374.68,474.77 L364.82,472.48" fill="none" stroke="#000" stroke-opacity="0.33" stroke-width="1.6"/>
<path clip-path="url(#wb)" d="M361.43,251.57 A2.83,2.83 0 0 0 361.43,257.23 L378.07,254.52 A2.83,2.83 0 0 1 378.07,260.18 L361.43,257.47 A2.83,2.83 0 0 0 361.43,263.13 L378.07,260.42 A2.83,2.83 0 0 1 378.07,266.08 L361.43,263.37 A2.83,2.83 0 0 0 361.43,269.03 L378.07,266.32 A2.83,2.83 0 0 1 378.07,271.98 L361.43,269.27 A2.83,2.83 0 0 0 361.43,274.93 L378.07,272.22 A2.83,2.83 0 0 1 378.07,277.88 L361.43,275.17 A2.83,2.83 0 0 0 361.43,280.83 L378.07,278.12 A2.83,2.83 0 0 1 378.07,283.78 L361.43,281.07 A2.83,2.83 0 0 0 361.43,286.73 L378.07,284.02 A2.83,2.83 0 0 1 378.07,289.68 L361.43,286.97 A2.83,2.83 0 0 0 361.43,292.63 L378.07,289.92 A2.83,2.83 0 0 1 378.07,295.58 L361.43,292.87 A2.83,2.83 0 0 0 361.43,298.53 L378.07,295.82 A2.83,2.83 0 0 1 378.07,301.48 L361.43,298.77 A2.83,2.83 0 0 0 361.43,304.43 L378.07,301.72 A2.83,2.83 0 0 1 378.07,307.38 L361.43,304.67 A2.83,2.83 0 0 0 361.43,310.33 L378.07,307.62 A2.83,2.83 0 0 1 378.07,313.28 L361.43,310.57 A2.83,2.83 0 0 0 361.43,316.23 L378.07,313.52 A2.83,2.83 0 0 1 378.07,319.18 L361.43,316.47 A2.83,2.83 0 0 0 361.43,322.13 L378.07,319.42 A2.83,2.83 0 0 1 378.07,325.08 L361.43,322.37 A2.83,2.83 0 0 0 361.43,328.03 L378.07,325.32 A2.83,2.83 0 0 1 378.07,330.98 L361.43,328.27 A2.83,2.83 0 0 0 361.43,333.93 L378.07,331.22 A2.83,2.83 0 0 1 378.07,336.88 L361.43,334.17 A2.83,2.83 0 0 0 361.43,339.83 L378.07,337.12 A2.83,2.83 0 0 1 378.07,342.78 L361.43,340.07 A2.83,2.83 0 0 0 361.43,345.73 L378.07,343.02 A2.83,2.83 0 0 1 378.07,348.68 L361.43,345.97 A2.83,2.83 0 0 0 361.43,351.63 L378.07,348.92 A2.83,2.83 0 0 1 378.07,354.58 L361.82,351.48 A3.22,3.22 0 0 0 361.82,357.92 L377.68,354.83 A3.22,3.22 0 0 1 377.68,361.27 L361.82,358.18 A3.22,3.22 0 0 0 361.82,364.62 L377.68,361.53 A3.22,3.22 0 0 1 377.68,367.97 L361.82,364.88 A3.22,3.22 0 0 0 361.82,371.32 L377.68,368.23 A3.22,3.22 0 0 1 377.68,374.67 L361.82,371.58 A3.22,3.22 0 0 0 361.82,378.02 L377.68,374.93 A3.22,3.22 0 0 1 377.68,381.37 L361.82,378.28 A3.22,3.22 0 0 0 361.82,384.72 L377.68,381.63 A3.22,3.22 0 0 1 377.68,388.07 L361.82,384.98 A3.22,3.22 0 0 0 361.82,391.42 L377.68,388.33 A3.22,3.22 0 0 1 377.68,394.77 L361.82,391.68 A3.22,3.22 0 0 0 361.82,398.12 L377.68,395.03 A3.22,3.22 0 0 1 377.68,401.47 L361.82,398.38 A3.22,3.22 0 0 0 361.82,404.82 L377.68,401.73 A3.22,3.22 0 0 1 377.68,408.17 L361.82,405.08 A3.22,3.22 0 0 0 361.82,411.52 L377.68,408.43 A3.22,3.22 0 0 1 377.68,414.87 L361.82,411.78 A3.22,3.22 0 0 0 361.82,418.22 L377.68,415.13 A3.22,3.22 0 0 1 377.68,421.57 L361.82,418.48 A3.22,3.22 0 0 0 361.82,424.92 L377.68,421.83 A3.22,3.22 0 0 1 377.68,428.27 L361.82,425.18 A3.22,3.22 0 0 0 361.82,431.62 L377.68,428.53 A3.22,3.22 0 0 1 377.68,434.97 L361.82,431.88 A3.22,3.22 0 0 0 361.82,438.32 L377.68,435.23 A3.22,3.22 0 0 1 377.68,441.67 L361.82,438.58 A3.22,3.22 0 0 0 361.82,445.02 L377.68,441.93 A3.22,3.22 0 0 1 377.68,448.37 L361.82,445.28 A3.22,3.22 0 0 0 361.82,451.72 L377.68,448.63 A3.22,3.22 0 0 1 377.68,455.07 L361.82,451.98 A3.22,3.22 0 0 0 361.82,458.42 L377.68,455.33 A3.22,3.22 0 0 1 377.68,461.77 L361.82,458.68 A3.22,3.22 0 0 0 361.82,465.12 L377.68,462.03 A3.22,3.22 0 0 1 377.68,468.47 L361.82,465.38 A3.22,3.22 0 0 0 361.82,471.82 L377.68,468.73 A3.22,3.22 0 0 1 377.68,475.17 L361.82,472.08" fill="none" stroke="#111" stroke-width="0.75"/>
<line x1="358.30" y1="251.00" x2="381.00" y2="251.00" stroke="#000" stroke-width="1.6"/>
<line x1="312.40" y1="462.40" x2="334.60" y2="462.40" stroke="#000" stroke-width="1.0"/>
<line x1="353.80" y1="462.40" x2="385.70" y2="462.40" stroke="#000" stroke-width="1.2"/>
<line x1="391.50" y1="462.40" x2="392.50" y2="462.40" stroke="#000" stroke-width="1.0"/>
<line x1="403.40" y1="462.40" x2="420.50" y2="462.40" stroke="#000" stroke-width="1.0"/>
<line x1="328.00" y1="469.30" x2="328.00" y2="511.50" stroke="#000" stroke-width="1.0"/>
<line x1="389.00" y1="469.30" x2="389.00" y2="511.50" stroke="#000" stroke-width="1.0"/>
<line x1="326.50" y1="505.50" x2="390.50" y2="505.50" stroke="#000" stroke-width="1.0"/>
<line x1="326.30" y1="507.60" x2="329.70" y2="503.40" stroke="#000" stroke-width="1.0"/>
<line x1="387.30" y1="507.60" x2="390.70" y2="503.40" stroke="#000" stroke-width="1.0"/>
<path d="M337.20,100.50 L337.20,32.40 L495.00,32.40" fill="none" stroke="#000" stroke-width="1.0" stroke-linejoin="miter"/>
<path d="M414.90,115.20 L414.90,86.00 L415.60,86.00 L415.60,57.60 L494.80,57.60" fill="none" stroke="#000" stroke-width="1.0" stroke-linejoin="miter"/>
<path d="M436.80,117.00 L436.80,76.40 L595.00,76.40" fill="none" stroke="#000" stroke-width="1.0" stroke-linejoin="miter"/>
<line x1="462.90" y1="76.40" x2="462.90" y2="146.00" stroke="#000" stroke-width="1.0"/>
<path d="M473.70,195.50 L473.70,98.00 L632.00,98.00" fill="none" stroke="#000" stroke-width="1.0" stroke-linejoin="miter"/>
<path d="M577.60,216.00 L577.60,115.10 L734.80,115.10" fill="none" stroke="#000" stroke-width="1.0" stroke-linejoin="miter"/>
<line x1="173.00" y1="169.00" x2="327.70" y2="169.00" stroke="#000" stroke-width="1.0"/>
<line x1="193.20" y1="201.00" x2="352.00" y2="201.00" stroke="#000" stroke-width="1.0"/>
<path d="M240.70,218.70 L320.00,218.70 L356.00,232.00" fill="none" stroke="#000" stroke-width="1.0" stroke-linejoin="miter"/>
<line x1="240.70" y1="246.00" x2="355.00" y2="246.00" stroke="#000" stroke-width="1.0"/>
<line x1="240.70" y1="267.80" x2="355.00" y2="267.80" stroke="#000" stroke-width="1.0"/>
<line x1="221.40" y1="300.60" x2="347.00" y2="300.60" stroke="#000" stroke-width="1.0"/>
<ellipse cx="349.3" cy="300.6" rx="1.9" ry="2.6" fill="none" stroke="#000" stroke-width="1.2"/>
<line x1="221.40" y1="322.40" x2="350.50" y2="322.40" stroke="#000" stroke-width="1.0"/>
<line x1="209.80" y1="343.90" x2="339.00" y2="343.90" stroke="#000" stroke-width="1.0"/>
<line x1="240.70" y1="364.00" x2="327.70" y2="364.00" stroke="#000" stroke-width="1.0"/>
<line x1="284.30" y1="364.00" x2="347.30" y2="390.80" stroke="#000" stroke-width="1.0"/>
<path d="M468.30,226.40 L468.30,263.60 L595.70,263.60" fill="none" stroke="#000" stroke-width="1.0" stroke-linejoin="miter"/>
<path d="M432.60,228.20 L432.60,288.40 L560.70,288.40" fill="none" stroke="#000" stroke-width="1.0" stroke-linejoin="miter"/>
<path d="M414.90,230.00 L414.90,312.40 L543.30,312.40" fill="none" stroke="#000" stroke-width="1.0" stroke-linejoin="miter"/>
<line x1="375.80" y1="360.40" x2="501.90" y2="360.40" stroke="#000" stroke-width="1.0"/>
<line x1="381.00" y1="385.50" x2="508.80" y2="385.50" stroke="#000" stroke-width="1.0"/>
<circle cx="379.8" cy="385.5" r="1.3" fill="none" stroke="#000" stroke-width="0.8"/>
<line x1="383.40" y1="406.40" x2="511.20" y2="406.40" stroke="#000" stroke-width="1.0"/>
<line x1="387.80" y1="428.20" x2="516.20" y2="428.20" stroke="#000" stroke-width="1.0"/>
<g opacity="0.999">
<text x="354.0" y="503.7" font-size="7.0" textLength="9.2" lengthAdjust="spacingAndGlyphs" xml:space="preserve">162</text>
<text x="348.2" y="27.6" font-size="10.0" textLength="25.0" lengthAdjust="spacingAndGlyphs" xml:space="preserve">CHAPA</text>
<text x="379.2" y="27.6" font-size="10.0" textLength="35.3" lengthAdjust="spacingAndGlyphs" xml:space="preserve">PLEGADA</text>
<text x="419.3" y="27.6" font-size="10.0" textLength="10.2" lengthAdjust="spacingAndGlyphs" xml:space="preserve">DE</text>
<text x="433.5" y="27.6" font-size="10.0" textLength="20.9" lengthAdjust="spacingAndGlyphs" xml:space="preserve">CERO</text>
<text x="459.7" y="27.6" font-size="10.0" textLength="17.7" lengthAdjust="spacingAndGlyphs" xml:space="preserve">INOX</text>
<text x="483.4" y="27.6" font-size="10.0" textLength="38.9" lengthAdjust="spacingAndGlyphs" xml:space="preserve">E=0.5MM.</text>
<text x="427.5" y="52.2" font-size="10.0" textLength="41.3" lengthAdjust="spacingAndGlyphs" xml:space="preserve">MEMBRANA</text>
<text x="474.4" y="52.2" font-size="10.0" textLength="61.8" lengthAdjust="spacingAndGlyphs" xml:space="preserve">AUTOPROTEGIDA</text>
<text x="547.2" y="52.2" font-size="10.0" textLength="20.5" lengthAdjust="spacingAndGlyphs" xml:space="preserve">EPDM</text>
<text x="448.2" y="71.6" font-size="10.0" textLength="33.0" lengthAdjust="spacingAndGlyphs" xml:space="preserve">TABLERO</text>
<text x="487.7" y="71.6" font-size="10.0" textLength="9.4" lengthAdjust="spacingAndGlyphs" xml:space="preserve">DE</text>
<text x="502.7" y="71.6" font-size="10.0" textLength="30.8" lengthAdjust="spacingAndGlyphs" xml:space="preserve">VIRUTAS</text>
<text x="539.3" y="71.6" font-size="10.0" textLength="40.9" lengthAdjust="spacingAndGlyphs" xml:space="preserve">ORIENTADA</text>
<text x="586.2" y="71.6" font-size="10.0" textLength="14.0" lengthAdjust="spacingAndGlyphs" xml:space="preserve">OSB</text>
<text x="606.2" y="71.6" font-size="10.0" textLength="36.3" lengthAdjust="spacingAndGlyphs" xml:space="preserve">e=12MM.</text>
<text x="485.0" y="93.3" font-size="10.0" textLength="24.2" lengthAdjust="spacingAndGlyphs" xml:space="preserve">PANEL</text>
<text x="515.4" y="93.3" font-size="10.0" textLength="42.9" lengthAdjust="spacingAndGlyphs" xml:space="preserve">SEMIRÍGIDO</text>
<text x="564.1" y="93.3" font-size="10.0" textLength="9.4" lengthAdjust="spacingAndGlyphs" xml:space="preserve">DE</text>
<text x="579.0" y="93.3" font-size="10.0" textLength="21.2" lengthAdjust="spacingAndGlyphs" xml:space="preserve">FIBRA</text>
<text x="606.5" y="93.3" font-size="10.0" textLength="9.2" lengthAdjust="spacingAndGlyphs" xml:space="preserve">DE</text>
<text x="621.4" y="93.3" font-size="10.0" textLength="18.7" lengthAdjust="spacingAndGlyphs" xml:space="preserve">VIDIO</text>
<text x="645.6" y="93.3" font-size="10.0" textLength="40.2" lengthAdjust="spacingAndGlyphs" xml:space="preserve">E=100MM.</text>
<text x="589.2" y="110.3" font-size="10.0" textLength="24.2" lengthAdjust="spacingAndGlyphs" xml:space="preserve">PANEL</text>
<text x="619.6" y="110.3" font-size="10.0" textLength="42.9" lengthAdjust="spacingAndGlyphs" xml:space="preserve">SEMIRÍGIDO</text>
<text x="668.3" y="110.3" font-size="10.0" textLength="9.4" lengthAdjust="spacingAndGlyphs" xml:space="preserve">DE</text>
<text x="683.2" y="110.3" font-size="10.0" textLength="21.2" lengthAdjust="spacingAndGlyphs" xml:space="preserve">FIBRA</text>
<text x="710.7" y="110.3" font-size="10.0" textLength="9.2" lengthAdjust="spacingAndGlyphs" xml:space="preserve">DE</text>
<text x="725.6" y="110.3" font-size="10.0" textLength="18.7" lengthAdjust="spacingAndGlyphs" xml:space="preserve">VIDIO</text>
<text x="749.8" y="110.3" font-size="10.0" textLength="40.2" lengthAdjust="spacingAndGlyphs" xml:space="preserve">E=100MM.</text>
<text x="108.7" y="168.0" font-size="10.0" textLength="51.9" lengthAdjust="spacingAndGlyphs" xml:space="preserve">CERRAMIENTO</text>
<text x="166.6" y="168.0" font-size="10.0" textLength="9.2" lengthAdjust="spacingAndGlyphs" xml:space="preserve">DE</text>
<text x="181.1" y="168.0" font-size="10.0" textLength="27.6" lengthAdjust="spacingAndGlyphs" xml:space="preserve">TABLAS</text>
<text x="215.2" y="168.0" font-size="10.0" textLength="63.3" lengthAdjust="spacingAndGlyphs" xml:space="preserve">MACHIEMBRADAS</text>
<text x="285.8" y="168.0" font-size="10.0" textLength="34.8" lengthAdjust="spacingAndGlyphs" xml:space="preserve">E=17MM.</text>
<text x="129.5" y="200.0" font-size="10.0" textLength="30.1" lengthAdjust="spacingAndGlyphs" xml:space="preserve">VIGUETA</text>
<text x="165.6" y="200.0" font-size="10.0" textLength="9.4" lengthAdjust="spacingAndGlyphs" xml:space="preserve">DE</text>
<text x="181.1" y="200.0" font-size="10.0" textLength="26.4" lengthAdjust="spacingAndGlyphs" xml:space="preserve">CIERRE</text>
<text x="212.8" y="200.0" font-size="10.0" textLength="45.1" lengthAdjust="spacingAndGlyphs" xml:space="preserve">39X235MM.</text>
<text x="195.5" y="217.6" font-size="10.0" textLength="34.5" lengthAdjust="spacingAndGlyphs" xml:space="preserve">CARRERA</text>
<text x="236.0" y="217.6" font-size="10.0" textLength="38.9" lengthAdjust="spacingAndGlyphs" xml:space="preserve">SUPERIOR</text>
<text x="280.9" y="217.6" font-size="10.0" textLength="39.1" lengthAdjust="spacingAndGlyphs" xml:space="preserve">38X89MM.</text>
<text x="203.6" y="244.6" font-size="10.0" textLength="33.3" lengthAdjust="spacingAndGlyphs" xml:space="preserve">TESTERO</text>
<text x="242.2" y="244.6" font-size="10.0" textLength="38.9" lengthAdjust="spacingAndGlyphs" xml:space="preserve">SUPERIOR</text>
<text x="286.6" y="244.6" font-size="10.0" textLength="40.2" lengthAdjust="spacingAndGlyphs" xml:space="preserve">38X89MM.</text>
<text x="203.6" y="266.4" font-size="10.0" textLength="40.1" lengthAdjust="spacingAndGlyphs" xml:space="preserve">MONTANTE</text>
<text x="248.5" y="266.4" font-size="10.0" textLength="40.0" lengthAdjust="spacingAndGlyphs" xml:space="preserve">38X89MM.</text>
<text x="196.1" y="299.0" font-size="10.0" textLength="41.3" lengthAdjust="spacingAndGlyphs" xml:space="preserve">MENBRANA</text>
<text x="242.7" y="299.0" font-size="10.0" textLength="46.1" lengthAdjust="spacingAndGlyphs" xml:space="preserve">RESPIRANTE</text>
<text x="130.7" y="318.8" font-size="10.0" textLength="33.0" lengthAdjust="spacingAndGlyphs" xml:space="preserve">TABLERO</text>
<text x="170.2" y="318.8" font-size="10.0" textLength="9.4" lengthAdjust="spacingAndGlyphs" xml:space="preserve">DE</text>
<text x="185.2" y="318.8" font-size="10.0" textLength="30.8" lengthAdjust="spacingAndGlyphs" xml:space="preserve">VIRUTAS</text>
<text x="221.8" y="318.8" font-size="10.0" textLength="40.9" lengthAdjust="spacingAndGlyphs" xml:space="preserve">ORIENTADA</text>
<text x="268.7" y="318.8" font-size="10.0" textLength="14.0" lengthAdjust="spacingAndGlyphs" xml:space="preserve">OSB</text>
<text x="288.7" y="318.8" font-size="10.0" textLength="36.3" lengthAdjust="spacingAndGlyphs" xml:space="preserve">e=10MM.</text>
<text x="158.7" y="339.3" font-size="10.0" textLength="30.1" lengthAdjust="spacingAndGlyphs" xml:space="preserve">CAMARA</text>
<text x="194.8" y="339.3" font-size="10.0" textLength="9.0" lengthAdjust="spacingAndGlyphs" xml:space="preserve">DE</text>
<text x="209.3" y="339.3" font-size="10.0" textLength="16.9" lengthAdjust="spacingAndGlyphs" xml:space="preserve">AIRE</text>
<text x="231.5" y="339.3" font-size="10.0" textLength="46.6" lengthAdjust="spacingAndGlyphs" xml:space="preserve">DEBILMENTE</text>
<text x="283.4" y="339.3" font-size="10.0" textLength="40.1" lengthAdjust="spacingAndGlyphs" xml:space="preserve">VENTILADA</text>
<text x="204.1" y="362.4" font-size="10.0" textLength="24.6" lengthAdjust="spacingAndGlyphs" xml:space="preserve">DOBLE</text>
<text x="234.7" y="362.4" font-size="10.0" textLength="32.7" lengthAdjust="spacingAndGlyphs" xml:space="preserve">RASTREL</text>
<text x="272.2" y="362.4" font-size="10.0" textLength="10.1" lengthAdjust="spacingAndGlyphs" xml:space="preserve">DE</text>
<text x="287.6" y="362.4" font-size="10.0" textLength="37.4" lengthAdjust="spacingAndGlyphs" xml:space="preserve">22X38MM</text>
<text x="474.2" y="258.9" font-size="10.0" textLength="42.1" lengthAdjust="spacingAndGlyphs" xml:space="preserve">MEMBRANA</text>
<text x="521.9" y="258.9" font-size="10.0" textLength="9.4" lengthAdjust="spacingAndGlyphs" xml:space="preserve">DE</text>
<text x="537.3" y="258.9" font-size="10.0" textLength="47.1" lengthAdjust="spacingAndGlyphs" xml:space="preserve">POLIETILENO</text>
<text x="589.7" y="258.9" font-size="10.0" textLength="37.1" lengthAdjust="spacingAndGlyphs" xml:space="preserve">E=15MM.</text>
<text x="631.4" y="258.9" font-size="10.0" textLength="34.8" lengthAdjust="spacingAndGlyphs" xml:space="preserve">BARRERA</text>
<text x="672.3" y="258.9" font-size="10.0" textLength="43.9" lengthAdjust="spacingAndGlyphs" xml:space="preserve">PARAVAPOR</text>
<text x="721.5" y="258.9" font-size="10.0" textLength="4.7" lengthAdjust="spacingAndGlyphs" xml:space="preserve">Y</text>
<text x="731.7" y="258.9" font-size="10.0" textLength="9.4" lengthAdjust="spacingAndGlyphs" xml:space="preserve">DE</text>
<text x="746.7" y="258.9" font-size="10.0" textLength="16.8" lengthAdjust="spacingAndGlyphs" xml:space="preserve">AIRE</text>
<text x="438.9" y="283.7" font-size="10.0" textLength="33.0" lengthAdjust="spacingAndGlyphs" xml:space="preserve">TABLERO</text>
<text x="478.4" y="283.7" font-size="10.0" textLength="9.4" lengthAdjust="spacingAndGlyphs" xml:space="preserve">DE</text>
<text x="493.4" y="283.7" font-size="10.0" textLength="30.8" lengthAdjust="spacingAndGlyphs" xml:space="preserve">VIRUTAS</text>
<text x="530.0" y="283.7" font-size="10.0" textLength="40.9" lengthAdjust="spacingAndGlyphs" xml:space="preserve">ORIENTADA</text>
<text x="576.9" y="283.7" font-size="10.0" textLength="14.0" lengthAdjust="spacingAndGlyphs" xml:space="preserve">OSB</text>
<text x="596.9" y="283.7" font-size="10.0" textLength="36.3" lengthAdjust="spacingAndGlyphs" xml:space="preserve">e=10MM.</text>
<text x="422.5" y="307.5" font-size="10.0" textLength="27.4" lengthAdjust="spacingAndGlyphs" xml:space="preserve">PLACAS</text>
<text x="456.2" y="307.5" font-size="10.0" textLength="9.4" lengthAdjust="spacingAndGlyphs" xml:space="preserve">DE</text>
<text x="471.1" y="307.5" font-size="10.0" textLength="54.9" lengthAdjust="spacingAndGlyphs" xml:space="preserve">CARTON–YESO</text>
<text x="532.2" y="307.5" font-size="10.0" textLength="35.9" lengthAdjust="spacingAndGlyphs" xml:space="preserve">e=12MM.</text>
<text x="394.2" y="356.8" font-size="10.0" textLength="23.9" lengthAdjust="spacingAndGlyphs" xml:space="preserve">MANTA</text>
<text x="424.2" y="356.8" font-size="10.0" textLength="9.4" lengthAdjust="spacingAndGlyphs" xml:space="preserve">DE</text>
<text x="439.1" y="356.8" font-size="10.0" textLength="21.4" lengthAdjust="spacingAndGlyphs" xml:space="preserve">FIBRA</text>
<text x="466.1" y="356.8" font-size="10.0" textLength="9.9" lengthAdjust="spacingAndGlyphs" xml:space="preserve">DE</text>
<text x="481.5" y="356.8" font-size="10.0" textLength="23.4" lengthAdjust="spacingAndGlyphs" xml:space="preserve">VIDRIO</text>
<text x="512.2" y="356.8" font-size="10.0" textLength="10.2" lengthAdjust="spacingAndGlyphs" xml:space="preserve">E=</text>
<text x="528.2" y="356.8" font-size="10.0" textLength="24.1" lengthAdjust="spacingAndGlyphs" xml:space="preserve">70MM.</text>
<text x="557.8" y="356.8" font-size="10.0" textLength="45.3" lengthAdjust="spacingAndGlyphs" xml:space="preserve">REFORZADA</text>
<text x="608.6" y="356.8" font-size="10.0" textLength="17.6" lengthAdjust="spacingAndGlyphs" xml:space="preserve">CON:</text>
<text x="396.2" y="381.3" font-size="10.0" textLength="23.9" lengthAdjust="spacingAndGlyphs" xml:space="preserve">PAPEL</text>
<text x="425.9" y="381.3" font-size="10.0" textLength="24.2" lengthAdjust="spacingAndGlyphs" xml:space="preserve">KRAFT</text>
<text x="454.8" y="381.3" font-size="10.0" textLength="45.6" lengthAdjust="spacingAndGlyphs" xml:space="preserve">REFORZADO</text>
<text x="506.0" y="381.3" font-size="10.0" textLength="22.4" lengthAdjust="spacingAndGlyphs" xml:space="preserve">COMO</text>
<text x="533.9" y="381.3" font-size="10.0" textLength="35.1" lengthAdjust="spacingAndGlyphs" xml:space="preserve">BARRERA</text>
<text x="574.0" y="381.3" font-size="10.0" textLength="44.8" lengthAdjust="spacingAndGlyphs" xml:space="preserve">PARAVAPOR</text>
<text x="624.8" y="381.3" font-size="10.0" textLength="14.7" lengthAdjust="spacingAndGlyphs" xml:space="preserve">CON</text>
<text x="646.0" y="381.3" font-size="10.0" textLength="43.9" lengthAdjust="spacingAndGlyphs" xml:space="preserve">LENGÜETAS</text>
<text x="695.9" y="381.3" font-size="10.0" textLength="40.0" lengthAdjust="spacingAndGlyphs" xml:space="preserve">LATERALES</text>
<text x="398.0" y="401.8" font-size="10.0" textLength="33.0" lengthAdjust="spacingAndGlyphs" xml:space="preserve">TABLERO</text>
<text x="437.5" y="401.8" font-size="10.0" textLength="9.4" lengthAdjust="spacingAndGlyphs" xml:space="preserve">DE</text>
<text x="452.5" y="401.8" font-size="10.0" textLength="30.8" lengthAdjust="spacingAndGlyphs" xml:space="preserve">VIRUTAS</text>
<text x="489.1" y="401.8" font-size="10.0" textLength="40.9" lengthAdjust="spacingAndGlyphs" xml:space="preserve">ORIENTADA</text>
<text x="536.0" y="401.8" font-size="10.0" textLength="14.0" lengthAdjust="spacingAndGlyphs" xml:space="preserve">OSB</text>
<text x="556.0" y="401.8" font-size="10.0" textLength="36.3" lengthAdjust="spacingAndGlyphs" xml:space="preserve">e=10MM.</text>
<text x="403.4" y="424.1" font-size="10.0" textLength="27.4" lengthAdjust="spacingAndGlyphs" xml:space="preserve">PLACAS</text>
<text x="437.1" y="424.1" font-size="10.0" textLength="9.4" lengthAdjust="spacingAndGlyphs" xml:space="preserve">DE</text>
<text x="452.0" y="424.1" font-size="10.0" textLength="54.9" lengthAdjust="spacingAndGlyphs" xml:space="preserve">CARTON–YESO</text>
<text x="513.1" y="424.1" font-size="10.0" textLength="35.9" lengthAdjust="spacingAndGlyphs" xml:space="preserve">e=12MM.</text>
</g>
</svg>
</body></html>
